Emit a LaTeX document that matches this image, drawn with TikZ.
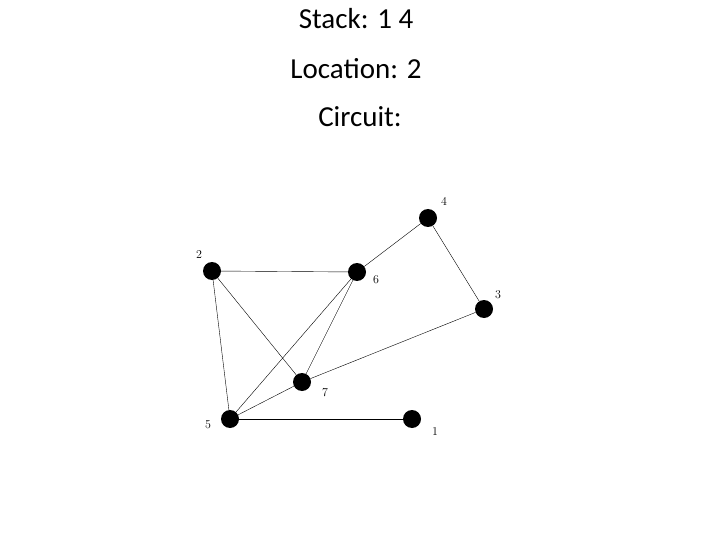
\documentclass[tikz,border=0pt]{standalone}
\usepackage{fontspec}
\newfontfamily\titlefont{Carlito}
\begin{document}
\begin{tikzpicture}[x=1pt, y=-1pt]
	\tikzset{vertex/.style={circle, fill=black, inner sep=0pt, minimum size=18pt},
		lbl/.style={font=\fontsize{12}{14}\selectfont},
		title/.style={font=\titlefont\fontsize{29}{34}\selectfont}}
	\useasboundingbox (0, 0) rectangle (720, 540);
	\node[title] (t1) at (356, 19) {Stack: 1 4};
	\node[title] (t2) at (356, 69) {Location: 2};
	\node[title] (t3) at (360, 117) {Circuit:};

	\node[vertex] (v4) at (428, 218) {};
	\node[vertex] (v2) at (212, 271) {};
	\node[vertex] (v6) at (357, 272) {};
	\node[vertex] (v3) at (484, 309) {};
	\node[vertex] (v7) at (302, 382) {};
	\node[vertex] (v5) at (230, 419) {};
	\node[vertex] (v1) at (412, 419) {};

	\node[lbl] (l4) at (444, 201) {4};
	\node[lbl] (l2) at (199, 255) {2};
	\node[lbl] (l6) at (376, 280) {6};
	\node[lbl] (l3) at (498, 295) {3};
	\node[lbl] (l7) at (325, 393) {7};
	\node[lbl] (l5) at (208, 425) {5};
	\node[lbl] (l1) at (435, 432) {1};

	\begin{scope}[thin]
		\draw (v2) -- (v6);
		\draw (v2) -- (v5);
		\draw (v2) -- (v7);
		\draw (v6) -- (v4);
		\draw (v4) -- (v3);
		\draw (v6) -- (v7);
		\draw (v6) -- (v5);
		\draw (v5) -- (v7);
		\draw (v7) -- (v3);
		\draw (v5) -- (v1);
	\end{scope}
\end{tikzpicture}
\end{document}
